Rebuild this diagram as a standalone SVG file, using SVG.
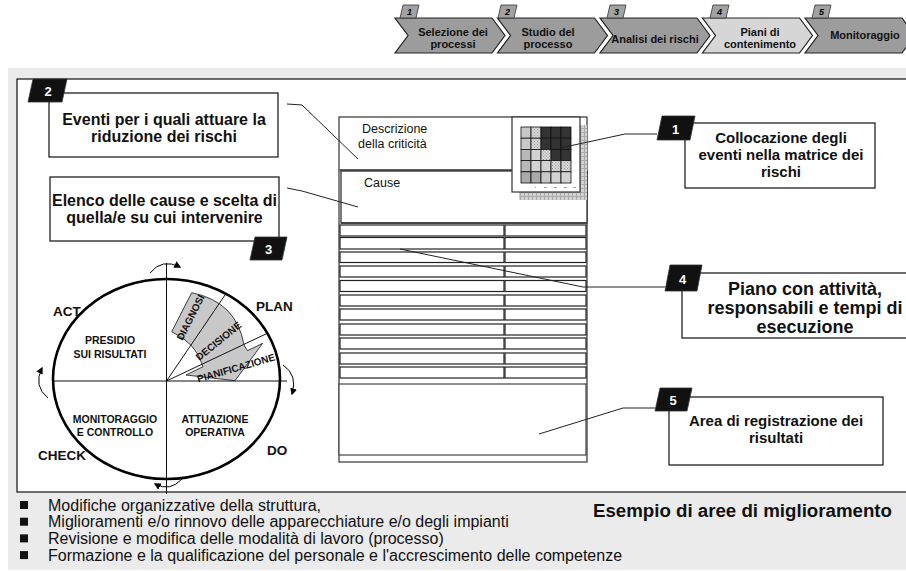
<svg xmlns="http://www.w3.org/2000/svg" width="906" height="571" viewBox="0 0 906 571">
<style>
.f{font-family:"Liberation Sans",Arial,sans-serif}
.chev{stroke:#222;stroke-width:1.2}
.tab{fill:#a2a2a2;stroke:#333;stroke-width:0.8}
.tabt{font-family:"Liberation Sans",Arial,sans-serif;font-weight:bold;font-style:italic;font-size:9px;fill:#000;text-anchor:middle}
.ct{font-family:"Liberation Sans",Arial,sans-serif;font-weight:bold;font-size:11px;fill:#111;text-anchor:middle}
.box{fill:#fff;stroke:#222;stroke-width:1.3}
.lbl{fill:#111;stroke:#333;stroke-width:0.8}
.lt{font-family:"Liberation Sans",Arial,sans-serif;font-weight:bold;font-size:13px;fill:#fff;text-anchor:middle}
.bt{font-family:"Liberation Sans",Arial,sans-serif;font-weight:bold;fill:#111;text-anchor:middle}
.con{fill:none;stroke:#222;stroke-width:1}
.row{fill:#fff;stroke:#222;stroke-width:1.2}
.cell{stroke:#111;stroke-width:0.8}
.qt{font-family:"Liberation Sans",Arial,sans-serif;font-weight:bold;font-size:10.5px;fill:#111;text-anchor:middle}
.pd{font-family:"Liberation Sans",Arial,sans-serif;font-weight:bold;font-size:13.5px;fill:#111}
.rt{font-family:"Liberation Sans",Arial,sans-serif;font-weight:bold;font-size:10px;fill:#111;text-anchor:middle}
.bl{font-family:"Liberation Sans",Arial,sans-serif;font-size:16px;fill:#111}
</style>
<defs>
<pattern id="hatch" width="3" height="3" patternUnits="userSpaceOnUse">
<rect width="3" height="3" fill="#d8d8d8"/>
<rect width="1" height="1" fill="#999"/>
<rect x="1.5" y="1.5" width="1" height="1" fill="#999"/>
</pattern>
<pattern id="shade" width="4" height="4" patternUnits="userSpaceOnUse">
<rect width="4" height="4" fill="#d2d2d2"/>
<path d="M0 0.5H4M0.5 0V4" stroke="#aaa" stroke-width="1"/>
</pattern>
<marker id="ah" viewBox="0 0 10 10" refX="8" refY="5" markerWidth="7" markerHeight="7" orient="auto" markerUnits="userSpaceOnUse">
<path d="M0 0L10 5L0 10Z" fill="#000"/>
</marker>
</defs>

<rect x="0" y="0" width="906" height="571" fill="#fff"/>
<rect x="8" y="68" width="898" height="502" fill="#ebebeb"/>
<rect x="17" y="79" width="895" height="413" fill="#fff" stroke="#222" stroke-width="1.3"/>

<!-- top process chevrons -->
<g id="step1">
<path class="chev" fill="#9c9c9c" d="M395 18H492L505 35.5L492 53H395L408 35.5Z"/>
<path class="tab" d="M403 5H419L416 18H400Z"/>
<text class="tabt" x="409.5" y="15">1</text>
<text class="ct" x="453" y="36">Selezione dei</text>
<text class="ct" x="453" y="48">processi</text>
</g>
<g id="step2">
<path class="chev" fill="#9c9c9c" d="M497.5 18H594.5L607.5 35.5L594.5 53H497.5L510.5 35.5Z"/>
<path class="tab" d="M501 5H517L514 18H498Z"/>
<text class="tabt" x="507.5" y="15">2</text>
<text class="ct" x="548" y="36">Studio del</text>
<text class="ct" x="548" y="48">processo</text>
</g>
<g id="step3">
<path class="chev" fill="#9c9c9c" d="M600 18H697L710 35.5L697 53H600L613 35.5Z"/>
<path class="tab" d="M610 5H626L623 18H607Z"/>
<text class="tabt" x="616.5" y="15">3</text>
<text class="ct" x="655" y="43">Analisi dei rischi</text>
</g>
<g id="step4">
<path class="chev" fill="#d6d6d6" d="M702.5 18H799.5L812.5 35.5L799.5 53H702.5L715.5 35.5Z"/>
<path class="tab" d="M713 5H729L726 18H710Z"/>
<text class="tabt" x="719.5" y="15">4</text>
<text class="ct" x="760" y="36">Piani di</text>
<text class="ct" x="760" y="48">contenimento</text>
</g>
<g id="step5">
<path class="chev" fill="#9c9c9c" d="M805 18H902L915 35.5L902 53H805L818 35.5Z"/>
<path class="tab" d="M815 5H831L828 18H812Z"/>
<text class="tabt" x="821.5" y="15">5</text>
<text class="ct" x="865" y="39">Monitoraggio</text>
</g>

<!-- central form -->
<g id="form">
<rect x="339" y="117" width="248" height="345" fill="#fff" stroke="#333" stroke-width="1.2"/>
<path d="M339 170H512" stroke="#666" stroke-width="2"/>
<rect x="341" y="171" width="246" height="52" fill="#fff" stroke="#222" stroke-width="1.2"/>
<path d="M341 223H587" stroke="#444" stroke-width="2"/>
<text class="f" font-size="12.5" x="362" y="133" fill="#111">Descrizione</text>
<text class="f" font-size="12.5" x="358" y="148" fill="#111">della criticità</text>
<text class="f" font-size="12.5" x="364" y="187" fill="#111">Cause</text>
<rect x="519" y="125" width="68" height="75" fill="url(#shade)"/>
<rect x="512" y="117" width="68" height="75" fill="#fff" stroke="#333" stroke-width="1.2"/>
<g id="matrix">
<rect class="cell" x="521" y="127" width="10" height="11.2" fill="#c8c8c8"/>
<rect class="cell" x="531" y="127" width="10" height="11.2" fill="url(#hatch)"/>
<rect class="cell" x="541" y="127" width="10" height="11.2" fill="#333"/>
<rect class="cell" x="551" y="127" width="10" height="11.2" fill="#333"/>
<rect class="cell" x="561" y="127" width="10" height="11.2" fill="#333"/>
<rect class="cell" x="521" y="138.2" width="10" height="11.2" fill="#c8c8c8"/>
<rect class="cell" x="531" y="138.2" width="10" height="11.2" fill="url(#hatch)"/>
<rect class="cell" x="541" y="138.2" width="10" height="11.2" fill="#333"/>
<rect class="cell" x="551" y="138.2" width="10" height="11.2" fill="#333"/>
<rect class="cell" x="561" y="138.2" width="10" height="11.2" fill="#333"/>
<rect class="cell" x="521" y="149.4" width="10" height="11.2" fill="#b8b8b8"/>
<rect class="cell" x="531" y="149.4" width="10" height="11.2" fill="#d2d2d2"/>
<rect class="cell" x="541" y="149.4" width="10" height="11.2" fill="url(#hatch)"/>
<rect class="cell" x="551" y="149.4" width="10" height="11.2" fill="#333"/>
<rect class="cell" x="561" y="149.4" width="10" height="11.2" fill="#333"/>
<rect class="cell" x="521" y="160.6" width="10" height="11.2" fill="#b8b8b8"/>
<rect class="cell" x="531" y="160.6" width="10" height="11.2" fill="#d2d2d2"/>
<rect class="cell" x="541" y="160.6" width="10" height="11.2" fill="#d2d2d2"/>
<rect class="cell" x="551" y="160.6" width="10" height="11.2" fill="url(#hatch)"/>
<rect class="cell" x="561" y="160.6" width="10" height="11.2" fill="url(#hatch)"/>
<rect class="cell" x="521" y="171.8" width="10" height="11.2" fill="#aaa"/>
<rect class="cell" x="531" y="171.8" width="10" height="11.2" fill="#aaa"/>
<rect class="cell" x="541" y="171.8" width="10" height="11.2" fill="#c8c8c8"/>
<rect class="cell" x="551" y="171.8" width="10" height="11.2" fill="#d2d2d2"/>
<rect class="cell" x="561" y="171.8" width="10" height="11.2" fill="#d2d2d2"/>
<path d="M535 187.5h1M544 187.5h3M554 187.5h3M564 187.5h3M573 187.5h3" stroke="#888" stroke-width="0.8"/>
</g>
<g id="rows">
<rect class="row" x="340" y="225" width="164" height="11"/><rect class="row" x="505" y="225" width="81" height="11"/>
<rect class="row" x="340" y="237.5" width="164" height="11.5"/><rect class="row" x="505" y="237.5" width="81" height="11.5"/>
<rect class="row" x="340" y="252" width="164" height="10.5"/><rect class="row" x="505" y="252" width="81" height="10.5"/>
<rect class="row" x="340" y="266" width="164" height="11"/><rect class="row" x="505" y="266" width="81" height="11"/>
<rect class="row" x="340" y="280.5" width="164" height="11"/><rect class="row" x="505" y="280.5" width="81" height="11"/>
<rect class="row" x="340" y="295" width="164" height="11"/><rect class="row" x="505" y="295" width="81" height="11"/>
<rect class="row" x="340" y="309" width="164" height="11"/><rect class="row" x="505" y="309" width="81" height="11"/>
<rect class="row" x="340" y="324" width="164" height="11"/><rect class="row" x="505" y="324" width="81" height="11"/>
<rect class="row" x="340" y="338" width="164" height="11"/><rect class="row" x="505" y="338" width="81" height="11"/>
<rect class="row" x="340" y="353" width="164" height="11"/><rect class="row" x="505" y="353" width="81" height="11"/>
<rect class="row" x="340" y="367" width="164" height="11"/><rect class="row" x="505" y="367" width="81" height="11"/>
</g>
<rect x="339" y="384" width="247" height="71" fill="#fff" stroke="#444" stroke-width="1.2"/>
</g>

<!-- connectors -->
<g id="connectors">
<polyline class="con" points="287,104 302,105 358,159"/>
<polyline class="con" points="287,188 302,191 358,207"/>
<polyline class="con" points="560,148 625,134 657,134"/>
<polyline class="con" points="400,249 583,287 665,287"/>
<polyline class="con" points="539,434 623,408 655,408"/>
</g>

<!-- callout boxes -->
<g id="callout2">
<rect class="box" x="49" y="93" width="229" height="64"/>
<path class="lbl" d="M33 79H67L62 102H28Z"/>
<text class="lt" x="48" y="96">2</text>
<text class="bt" font-size="16" x="164" y="124.5">Eventi per i quali attuare la</text>
<text class="bt" font-size="16" x="164" y="141.5">riduzione dei rischi</text>
</g>
<g id="callout3">
<rect class="box" x="50" y="177" width="229" height="64"/>
<path class="lbl" d="M255 237H287L282 260H250Z"/>
<text class="lt" x="268.5" y="253.5">3</text>
<text class="bt" font-size="16" x="164.5" y="206">Elenco delle cause e scelta di</text>
<text class="bt" font-size="16" x="164.5" y="223">quella/e su cui intervenire</text>
</g>
<g id="callout1">
<rect class="box" x="685" y="123" width="190" height="65"/>
<path class="lbl" d="M662 116H695L690 140H657Z"/>
<text class="lt" x="675.5" y="134">1</text>
<text class="bt" font-size="15" x="781" y="143">Collocazione degli</text>
<text class="bt" font-size="15" x="781" y="160">eventi nella matrice dei</text>
<text class="bt" font-size="15" x="781" y="177">rischi</text>
</g>
<g id="callout4">
<rect class="box" x="682" y="273" width="240" height="65"/>
<path class="lbl" d="M670 265H702L697 291H665Z"/>
<text class="lt" x="682.5" y="284">4</text>
<text class="bt" font-size="18" x="805" y="295">Piano con attività,</text>
<text class="bt" font-size="18" x="805" y="314">responsabili e tempi di</text>
<text class="bt" font-size="18" x="805" y="333">esecuzione</text>
</g>
<g id="callout5">
<rect class="box" x="669" y="397" width="214" height="68"/>
<path class="lbl" d="M660 388H692L687 411H655Z"/>
<text class="lt" x="673" y="405">5</text>
<text class="bt" font-size="15" x="776" y="426">Area di registrazione dei</text>
<text class="bt" font-size="15" x="776" y="443">risultati</text>
</g>

<!-- PDCA cycle -->
<g id="pdca">
<path d="M171.7 331.7L191.7 292.7Q236.7 301.7 244 345L247.5 350.7L262.7 343.3L235 380.7L186 375L203 366.7Q196.7 343.3 171.7 331.7Z" fill="#c8c8c8" stroke="#111" stroke-width="0.8"/>
<path d="M166.5 263V494M53 381H287M166.5 381L225 295M166.5 381L268 333" stroke="#111" stroke-width="1" fill="none"/>
<ellipse cx="166.5" cy="379" rx="113.5" ry="100" fill="none" stroke="#000" stroke-width="2.6"/>
<path d="M150 273Q162 258 180 267" fill="none" stroke="#000" stroke-width="1" marker-end="url(#ah)"/>
<path d="M283 365Q298 375 292 394" fill="none" stroke="#000" stroke-width="1" marker-end="url(#ah)"/>
<path d="M182 479Q170 492 155 484" fill="none" stroke="#000" stroke-width="1" marker-end="url(#ah)"/>
<path d="M48 398Q33 386 42 368" fill="none" stroke="#000" stroke-width="1" marker-end="url(#ah)"/>
<text class="rt" transform="translate(190.5 317.5) rotate(-63)" y="3.5">DIAGNOSI</text>
<text class="rt" transform="translate(218.5 341) rotate(-39)" y="3.5">DECISIONE</text>
<text class="rt" transform="translate(236 368) rotate(-16)" y="3.5">PIANIFICAZIONE</text>
<text class="qt" x="110" y="344">PRESIDIO</text>
<text class="qt" x="110" y="357.5">SUI RISULTATI</text>
<text class="qt" x="115" y="423">MONITORAGGIO</text>
<text class="qt" x="115" y="435.5">E CONTROLLO</text>
<text class="qt" x="215" y="423">ATTUAZIONE</text>
<text class="qt" x="215" y="435.5">OPERATIVA</text>
<text class="pd" x="53" y="316">ACT</text>
<text class="pd" x="256" y="311">PLAN</text>
<text class="pd" x="38" y="460">CHECK</text>
<text class="pd" x="267" y="455">DO</text>
</g>

<!-- bottom list -->
<g id="list">
<rect x="20" y="501" width="8" height="8" fill="#111"/>
<rect x="20" y="517.7" width="8" height="8" fill="#111"/>
<rect x="20" y="534.4" width="8" height="8" fill="#111"/>
<rect x="20" y="551.1" width="8" height="8" fill="#111"/>
<text class="bl" x="48" y="510.5">Modifiche organizzative della struttura,</text>
<text class="bl" x="48" y="527.2">Miglioramenti e/o rinnovo delle apparecchiature e/o degli impianti</text>
<text class="bl" x="48" y="543.9">Revisione e modifica delle modalità di lavoro (processo)</text>
<text class="bl" x="48" y="560.6">Formazione e la qualificazione del personale e l'accrescimento delle competenze</text>
<text class="bt" font-size="18.7" x="892" y="516.5" style="text-anchor:end">Esempio di aree di miglioramento</text>
</g>
</svg>
